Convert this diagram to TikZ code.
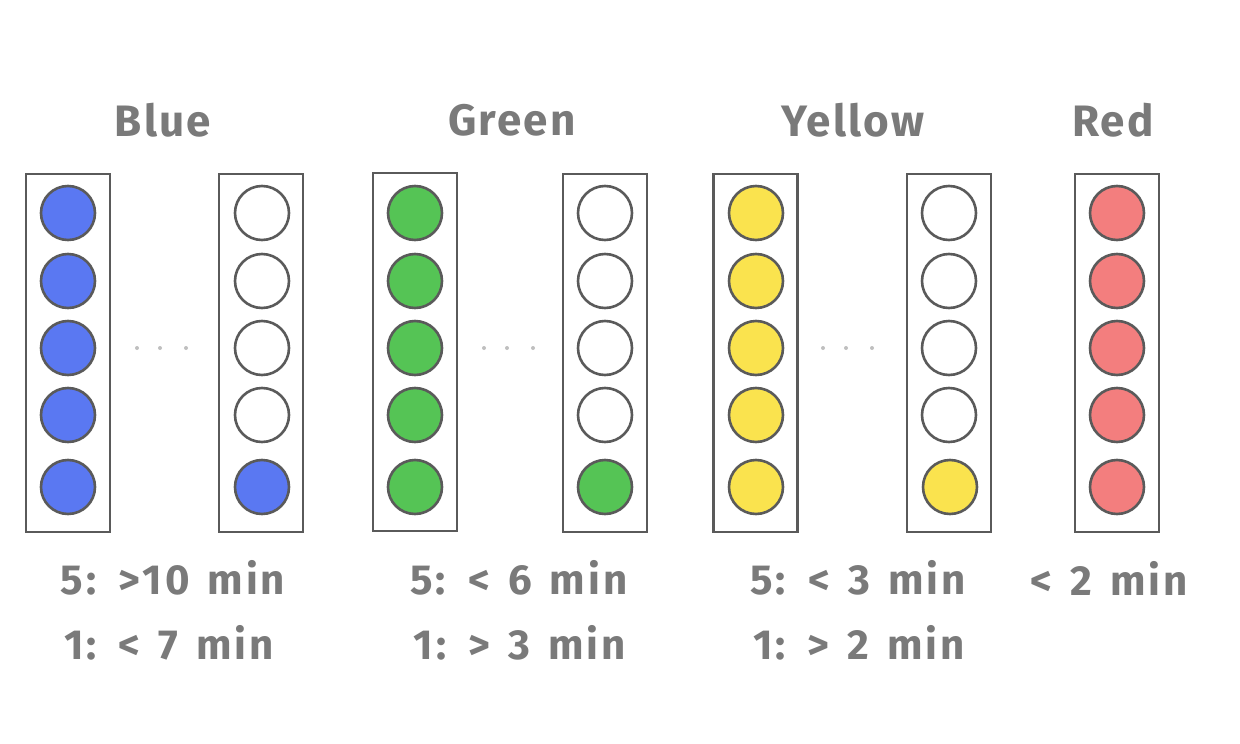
\documentclass[tikz,border=0pt]{standalone}
\usepackage{fontspec}
\setmainfont{Fira Sans}
\newfontfamily\labfont[LetterSpace=7,WordSpace=1.4]{Fira Sans}
\newfontfamily\titfont[LetterSpace=5]{Fira Sans}
\definecolor{txt}{HTML}{7A7A7A}
\definecolor{edge}{HTML}{5A5A5A}
\definecolor{cblue}{HTML}{5A78F2}
\definecolor{cgreen}{HTML}{55C455}
\definecolor{cyellow}{HTML}{FAE34E}
\definecolor{cred}{HTML}{F37E7E}
\begin{document}
\begin{tikzpicture}[x=1pt,y=-1pt,
  housing/.style={draw=edge,line width=2.2pt,minimum width=84pt,minimum height=358pt,inner sep=0pt},
  lamp/.style={circle,draw=edge,line width=2.6pt,minimum size=54pt,inner sep=0pt},
  title/.style={text=txt,font=\titfont\fontsize{44}{44}\selectfont\bfseries},
  lbl/.style={text=txt,font=\labfont\fontsize{42}{42}\selectfont\bfseries},
  dotmark/.style={circle,fill=black!25,minimum size=4pt,inner sep=0pt}]
\useasboundingbox (0,0) rectangle (1240,744);
% housings
\node[housing] (b1) at (68,353) {};
\node[housing] (b2) at (261,353) {};
\node[housing] (g1) at (415,352) {};
\node[housing] (g2) at (605,353) {};
\node[housing] (y1) at (755.5,353) {};
\node[housing] (y2) at (949,353) {};
\node[housing] (r1) at (1117,353) {};
% lamps
\foreach \i/\yy in {1/213,2/281,3/348,4/415,5/487}{
  \node[lamp,fill=cblue] (bl\i) at (68,\yy) {};
  \node[lamp,fill=cgreen] (gl\i) at (415,\yy) {};
  \node[lamp,fill=cyellow] (yl\i) at (756,\yy) {};
  \node[lamp,fill=cred] (rl\i) at (1117,\yy) {};
}
\foreach \i/\yy in {1/213,2/281,3/348,4/415}{
  \node[lamp] (br\i) at (262,\yy) {};
  \node[lamp] (gr\i) at (605,\yy) {};
  \node[lamp] (yr\i) at (949,\yy) {};
}
\node[lamp,fill=cblue] (br5) at (262,487) {};
\node[lamp,fill=cgreen] (gr5) at (605,487) {};
\node[lamp,fill=cyellow] (yr5) at (950,487) {};
% ellipsis dots
\foreach \n/\xa in {bd/137,gd/484,yd/823}{
  \node[dotmark] (\n1) at (\xa,348) {};
  \node[dotmark] (\n2) at (\xa+23,348) {};
  \node[dotmark] (\n3) at (\xa+49,348) {};
}
% titles
\node[title] (tb) at (163,120) {Blue};
\node[title] (tg) at (512,120) {Green};
\node[title] (ty) at (853,120) {Yellow};
\node[title] (tr) at (1113,120) {Red};
% labels
\node[lbl] (lb5) at (173,578) {5: >10 min};
\node[lbl] (lb1) at (169,643) {1: < 7 min};
\node[lbl] (lg5) at (519,578) {5: < 6 min};
\node[lbl] (lg1) at (520,643) {1: > 3 min};
\node[lbl] (ly5) at (858,578) {5: < 3 min};
\node[lbl] (ly1) at (859,643) {1: > 2 min};
\node[lbl] (lr) at (1109,578) {< 2 min};
\end{tikzpicture}
\end{document}
